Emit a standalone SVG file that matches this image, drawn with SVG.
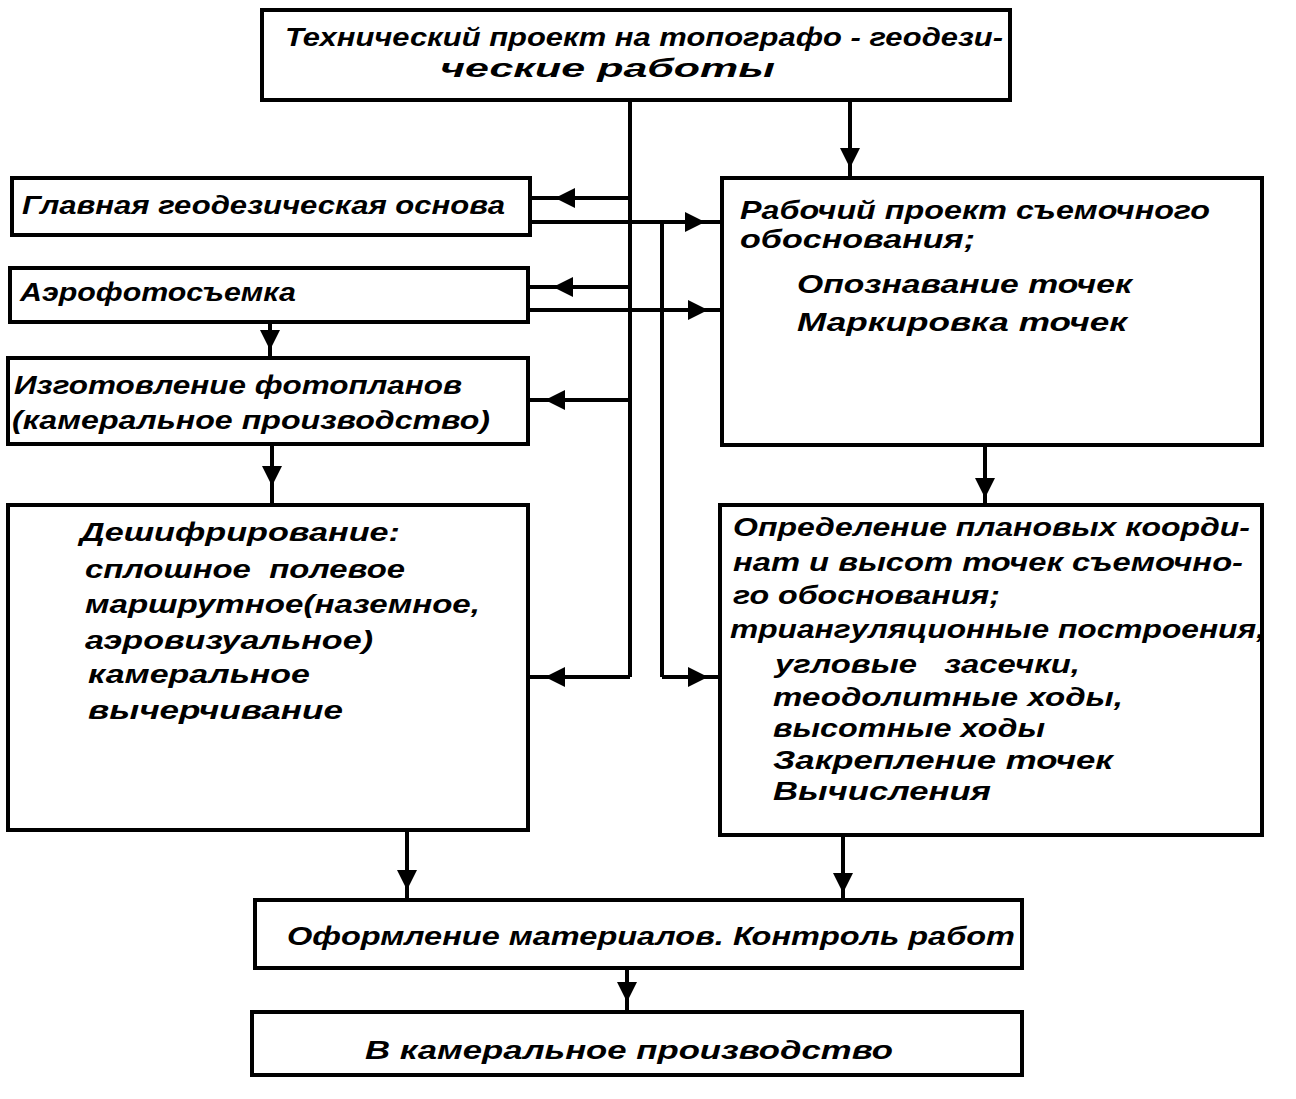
<svg xmlns="http://www.w3.org/2000/svg" width="1296" height="1099" viewBox="0 0 1296 1099">
<defs>
<style>
.box{fill:#fff;stroke:#000;stroke-width:4}
.t{font-family:"Liberation Sans","DejaVu Sans",sans-serif;font-size:26px;font-weight:bold;font-style:italic;fill:#000}
.c{fill:none;stroke:#000;stroke-width:4;marker-mid:url(#ah)}
.p{fill:none;stroke:#000;stroke-width:4}
</style>
<marker id="ah" viewBox="0 0 10 10" refX="10" refY="5" markerWidth="5.5" markerHeight="5" orient="auto" markerUnits="strokeWidth">
<path d="M0,0 L10,5 L0,10 z" fill="#000"/>
</marker>
</defs>
<rect width="1296" height="1099" fill="#fff"/>

<g id="connectors">
<path class="p" d="M630,100 L630,677"/>
<path class="c" d="M630,198 L555,198 L530,198"/>
<path class="c" d="M630,287 L553,287 L528,287"/>
<path class="c" d="M630,400 L545,400 L528,400"/>
<path class="c" d="M630,677 L545,677 L528,677"/>
<path class="c" d="M530,222 L705,222 L722,222"/>
<path class="c" d="M528,310 L708,310 L722,310"/>
<path class="p" d="M662,222 L662,677"/>
<path class="c" d="M662,677 L708,677 L720,677"/>
<path class="c" d="M850,100 L850,168 L850,178"/>
<path class="c" d="M985,445 L985,498 L985,505"/>
<path class="c" d="M270,322 L270,350 L270,358"/>
<path class="c" d="M272,444 L272,486 L272,505"/>
<path class="c" d="M407,830 L407,890 L407,900"/>
<path class="c" d="M843,835 L843,893 L843,900"/>
<path class="c" d="M627,968 L627,1002 L627,1012"/>
</g>

<g id="n-tech">
<rect class="box" x="262" y="10" width="748" height="90"/>
<text class="t" x="285" y="46" textLength="718" lengthAdjust="spacingAndGlyphs">Технический проект на топографо - геодези-</text>
<text class="t" x="440" y="77" textLength="335" lengthAdjust="spacingAndGlyphs">ческие работы</text>
</g>

<g id="n-glav">
<rect class="box" x="12" y="178" width="518" height="57"/>
<text class="t" x="22" y="214" textLength="483" lengthAdjust="spacingAndGlyphs">Главная геодезическая основа</text>
</g>

<g id="n-aero">
<rect class="box" x="10" y="268" width="518" height="54"/>
<text class="t" x="20" y="301" textLength="276" lengthAdjust="spacingAndGlyphs">Аэрофотосъемка</text>
</g>

<g id="n-izg">
<rect class="box" x="8" y="358" width="520" height="86"/>
<text class="t" x="14" y="394" textLength="448" lengthAdjust="spacingAndGlyphs">Изготовление фотопланов</text>
<text class="t" x="12" y="429" textLength="478" lengthAdjust="spacingAndGlyphs">(камеральное производство)</text>
</g>

<g id="n-desh">
<rect class="box" x="8" y="505" width="520" height="325"/>
<text class="t" x="80" y="541" textLength="320" lengthAdjust="spacingAndGlyphs">Дешифрирование:</text>
<text class="t" x="85" y="578" textLength="320" lengthAdjust="spacingAndGlyphs" xml:space="preserve">сплошное  полевое</text>
<text class="t" x="85" y="613" textLength="395" lengthAdjust="spacingAndGlyphs">маршрутное(наземное,</text>
<text class="t" x="85" y="649" textLength="288" lengthAdjust="spacingAndGlyphs">аэровизуальное)</text>
<text class="t" x="88" y="683" textLength="222" lengthAdjust="spacingAndGlyphs">камеральное</text>
<text class="t" x="88" y="719" textLength="255" lengthAdjust="spacingAndGlyphs">вычерчивание</text>
</g>

<g id="n-rab">
<rect class="box" x="722" y="178" width="540" height="267"/>
<text class="t" x="740" y="219" textLength="470" lengthAdjust="spacingAndGlyphs">Рабочий проект съемочного</text>
<text class="t" x="740" y="248" textLength="235" lengthAdjust="spacingAndGlyphs">обоснования;</text>
<text class="t" x="797" y="293" textLength="335" lengthAdjust="spacingAndGlyphs">Опознавание точек</text>
<text class="t" x="797" y="331" textLength="330" lengthAdjust="spacingAndGlyphs">Маркировка точек</text>
</g>

<g id="n-opr">
<rect class="box" x="720" y="505" width="542" height="330"/>
<text class="t" x="733" y="536" textLength="517" lengthAdjust="spacingAndGlyphs">Определение плановых коорди-</text>
<text class="t" x="733" y="571" textLength="510" lengthAdjust="spacingAndGlyphs">нат и высот точек съемочно-</text>
<text class="t" x="733" y="604" textLength="267" lengthAdjust="spacingAndGlyphs">го обоснования;</text>
<text class="t" x="730" y="638" textLength="535" lengthAdjust="spacingAndGlyphs">триангуляционные построения,</text>
<text class="t" x="775" y="673" textLength="305" lengthAdjust="spacingAndGlyphs" xml:space="preserve">угловые   засечки,</text>
<text class="t" x="773" y="706" textLength="350" lengthAdjust="spacingAndGlyphs">теодолитные ходы,</text>
<text class="t" x="773" y="737" textLength="272" lengthAdjust="spacingAndGlyphs">высотные ходы</text>
<text class="t" x="773" y="769" textLength="340" lengthAdjust="spacingAndGlyphs">Закрепление точек</text>
<text class="t" x="773" y="800" textLength="218" lengthAdjust="spacingAndGlyphs">Вычисления</text>
</g>

<g id="n-ofor">
<rect class="box" x="255" y="900" width="767" height="68"/>
<text class="t" x="287" y="945" textLength="728" lengthAdjust="spacingAndGlyphs">Оформление материалов. Контроль работ</text>
</g>

<g id="n-kam">
<rect class="box" x="252" y="1012" width="770" height="63"/>
<text class="t" x="365" y="1059" textLength="528" lengthAdjust="spacingAndGlyphs">В камеральное производство</text>
</g>
</svg>
